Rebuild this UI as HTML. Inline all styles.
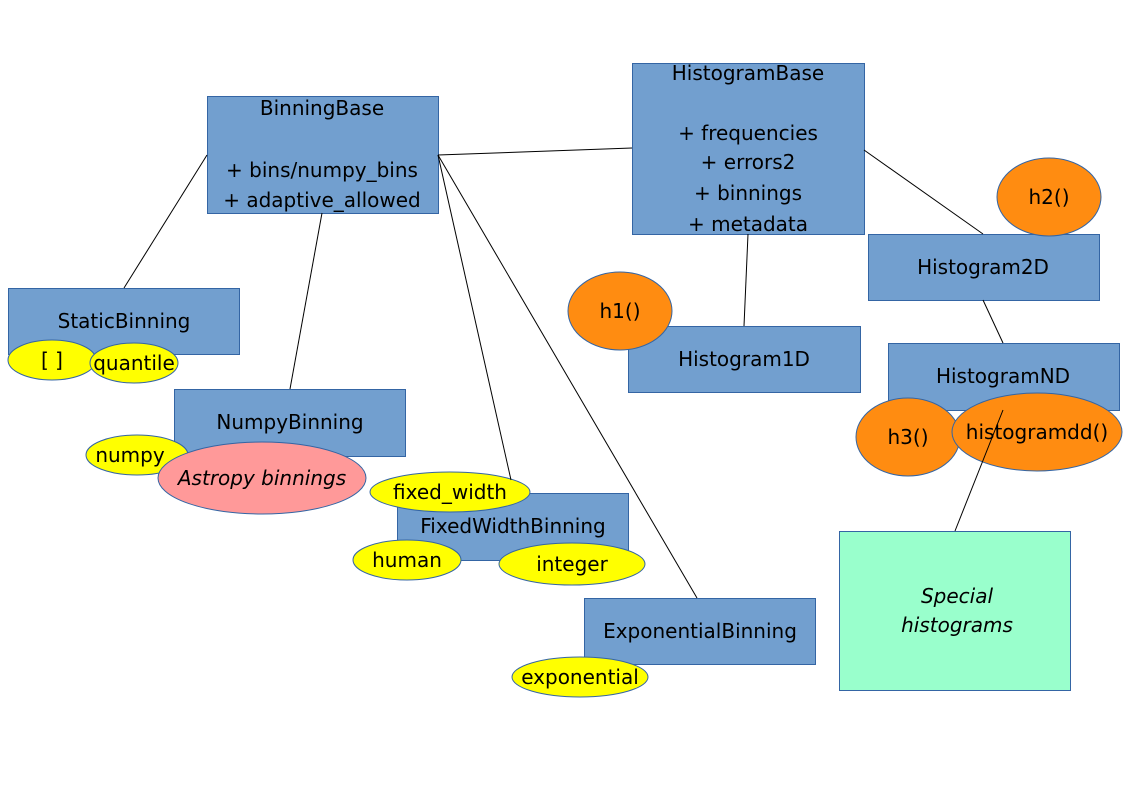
<!DOCTYPE html>
<html><head><meta charset="utf-8"><style>
html,body{margin:0;padding:0;background:#fff;}
svg{display:block;}
text{font-family:"DejaVu Sans","Liberation Sans",sans-serif;font-size:20px;fill:#000;text-anchor:middle;}
.b{fill:#729fcf;stroke:#3465a4;stroke-width:1;}
.y{fill:#ffff00;stroke:#3465a4;stroke-width:1;}
.o{fill:#ff8c11;stroke:#3465a4;stroke-width:1;}
line{stroke:#000;stroke-width:1;}
</style></head><body>
<svg width="1123" height="794" viewBox="0 0 1123 794" xmlns="http://www.w3.org/2000/svg">
<rect class="b" x="207.5" y="96.5" width="231" height="117"/>
<text x="322" y="115">BinningBase</text>
<text x="322" y="177">+ bins/numpy_bins</text>
<text x="322" y="207">+ adaptive_allowed</text>

<rect class="b" x="632.5" y="63.5" width="232" height="171"/>
<text x="748" y="80">HistogramBase</text>
<text x="748" y="140">+ frequencies</text>
<text x="748" y="169">+ errors2</text>
<text x="748" y="200">+ binnings</text>
<text x="748" y="231">+ metadata</text>

<rect class="b" x="8.5" y="288.5" width="231" height="66"/>
<text x="124" y="328">StaticBinning</text>
<rect class="b" x="174.5" y="389.5" width="231" height="67"/>
<text x="290" y="429">NumpyBinning</text>
<rect class="b" x="397.5" y="493.5" width="231" height="67"/>
<text x="513" y="533">FixedWidthBinning</text>
<rect class="b" x="584.5" y="598.5" width="231" height="66"/>
<text x="700" y="638">ExponentialBinning</text>
<rect class="b" x="628.5" y="326.5" width="232" height="66"/>
<text x="744" y="366">Histogram1D</text>
<rect class="b" x="868.5" y="234.5" width="231" height="66"/>
<text x="983" y="274">Histogram2D</text>
<rect class="b" x="888.5" y="343.5" width="231" height="67"/>
<text x="1003" y="383">HistogramND</text>
<rect x="839.5" y="531.5" width="231" height="159" fill="#99ffcc" stroke="#3465a4"/>
<text x="957" y="603" font-style="italic">Special</text>
<text x="957" y="632" font-style="italic">histograms</text>

<ellipse class="y" cx="52" cy="360" rx="44" ry="20"/>
<text x="52" y="367">[ ]</text>
<ellipse class="y" cx="134" cy="363" rx="44" ry="20"/>
<text x="134" y="370">quantile</text>
<ellipse class="y" cx="137" cy="455" rx="51" ry="20"/>
<text x="130" y="462">numpy</text>
<ellipse cx="262" cy="478" rx="104" ry="36" fill="#ff9999" stroke="#3465a4"/>
<text x="262" y="485" font-style="italic">Astropy binnings</text>
<ellipse class="y" cx="450" cy="492" rx="80" ry="20"/>
<text x="450" y="499">fixed_width</text>
<ellipse class="y" cx="407" cy="560" rx="54" ry="20"/>
<text x="407" y="567">human</text>
<ellipse class="y" cx="572" cy="564" rx="73" ry="21"/>
<text x="572" y="571">integer</text>
<ellipse class="y" cx="580" cy="677" rx="68" ry="20"/>
<text x="580" y="684">exponential</text>

<ellipse class="o" cx="620" cy="311" rx="52" ry="39"/>
<text x="620" y="318">h1()</text>
<ellipse class="o" cx="1049" cy="197" rx="52" ry="39"/>
<text x="1049" y="204">h2()</text>
<ellipse class="o" cx="908" cy="437" rx="52" ry="39"/>
<text x="908" y="444">h3()</text>
<ellipse class="o" cx="1037" cy="432" rx="85" ry="39"/>
<text x="1037" y="439">histogramdd()</text>

<line x1="438" y1="155" x2="632" y2="148"/>
<line x1="207" y1="155" x2="124" y2="288"/>
<line x1="322" y1="213" x2="290" y2="389"/>
<line x1="438" y1="155" x2="511" y2="480"/>
<line x1="438" y1="155" x2="697" y2="598"/>
<line x1="748" y1="234" x2="744" y2="326"/>
<line x1="864" y1="150" x2="983" y2="234"/>
<line x1="983" y1="300" x2="1003" y2="343"/>
<line x1="1003" y1="410" x2="955" y2="531"/>
</svg>
</body></html>
